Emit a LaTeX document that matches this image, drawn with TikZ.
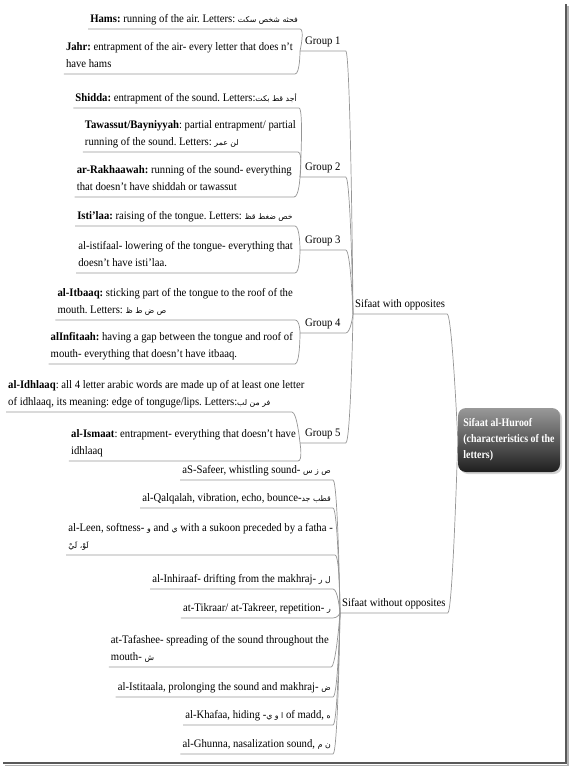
\documentclass[tikz,border=0pt]{standalone}
\usepackage{fontspec}
\setmainfont[FakeStretch=0.93]{Liberation Serif}
\newfontfamily\arabicfont[Script=Arabic]{DejaVu Sans}
\newfontfamily\centralfont[FakeStretch=0.86]{Liberation Serif}
\TeXXeTstate=1
\frenchspacing
\usetikzlibrary{shadows}
\definecolor{linkgray}{HTML}{959595}
\newcommand{\artxt}[1]{{\arabicfont\fontsize{7.8}{16.8}\selectfont\beginR #1\endR}}

\begin{document}
\begin{tikzpicture}[x=1pt,y=-1pt]
% Define styles
\tikzstyle{topic} = [inner xsep=2pt, inner ysep=1pt, align=left, font=\fontsize{11.5}{16.8}\selectfont, execute at end node=\strut]
\tikzstyle{grouptopic} = [topic, inner xsep=5pt, anchor=south west]
\tikzstyle{maintopic} = [topic, anchor=south west]
\tikzstyle{central} = [rounded corners=8pt, top color=black!40, bottom color=black!88, text=white, align=left, font=\centralfont\bfseries\fontsize{11.5}{16}\selectfont, inner xsep=4pt, inner ysep=7pt, minimum width=102pt, minimum height=64pt, drop shadow={opacity=0.35, shadow xshift=2pt, shadow yshift=-2pt}]
\tikzstyle{link} = [draw=linkgray, line width=0.7pt]
\useasboundingbox (0,0) rectangle (569,768);
% Page frame
\draw[black!30, line width=1.5pt] (5,765.5) -- (568,765.5) -- (568,6);
\draw[black!65, line width=2.2pt] (3,763) -- (566,763) -- (566,4);
% Define nodes
\node[central] (root) at (509,440) {Sifaat al-Huroof\\(characteristics of the\\letters)};
\node[maintopic] (withopp) at (353,314) {Sifaat with opposites};
\node[maintopic] (without) at (340,613) {Sifaat without opposites};
\node[grouptopic] (group1) at (300,51) {Group 1};
\node[grouptopic] (group2) at (300,177) {Group 2};
\node[grouptopic] (group3) at (300,250) {Group 3};
\node[grouptopic] (group4) at (300,333) {Group 4};
\node[grouptopic] (group5) at (300,443) {Group 5};
% left side
\node[topic, anchor=south east] (hams) at (300,29) {\textbf{Hams:} running of the air. Letters: \artxt{فحثه شخص سكت}};
\node[topic, anchor=south east] (jahr) at (295,74) {\textbf{Jahr:} entrapment of the air- every letter that does n't\\have hams};
\node[topic, anchor=south east] (shidda) at (299,108) {\textbf{Shidda:} entrapment of the sound. Letters:\artxt{أجد قط بكت}};
\node[topic, anchor=south east] (tawassut) at (298,152) {\textbf{Tawassut/Bayniyyah}: partial entrapment/ partial\\running of the sound. Letters: \artxt{لن عمر}};
\node[topic, anchor=south east] (rakhaawah) at (294,197) {\textbf{ar-Rakhaawah:} running of the sound- everything\\that doesn't have shiddah or tawassut};
\node[topic, anchor=south east] (istilaa) at (295,226) {\textbf{Isti'laa:} raising of the tongue. Letters: \artxt{خص ضغط قظ}};
\node[topic, anchor=south east] (istifaal) at (295,273) {al-istifaal- lowering of the tongue- everything that\\doesn't have isti'laa.};
\node[topic, anchor=south east] (itbaaq) at (295,320) {\textbf{al-Itbaaq:} sticking part of the tongue to the roof of the\\mouth. Letters: \artxt{ص ض ط ظ}};
\node[topic, anchor=south east] (infitaah) at (295,364) {\textbf{alInfitaah:} having a gap between the tongue and roof of\\mouth- everything that doesn't have itbaaq.};
\node[topic, anchor=south west] (idhlaaq) at (6,412) {\textbf{al-Idhlaaq}: all 4 letter arabic words are made up of at least one letter\\of idhlaaq, its meaning: edge of tonguge/lips. Letters:\artxt{فر من لب}};
\coordinate (idhlaaq-end) at (292,412);
\node[topic, anchor=south east] (ismaat) at (298,461) {\textbf{al-Ismaat}: entrapment- everything that doesn't have\\idhlaaq};
% right side
\node[topic, anchor=south east] (safeer) at (333,480) {aS-Safeer, whistling sound- \artxt{ص ز س}};
\node[topic, anchor=south east] (qalqalah) at (333,508) {al-Qalqalah, vibration, echo, bounce-\artxt{قطب جد}};
\node[topic, anchor=south east] (leen) at (335,555) {al-Leen, softness- \artxt{و} and \artxt{ي} with a sukoon preceded by a fatha -\\\artxt{لَوْ، لَيْ}};
\node[topic, anchor=south east] (inhiraaf) at (333,589) {al-Inhiraaf- drifting from the makhraj- \artxt{ل ر}};
\node[topic, anchor=south east] (tikraar) at (333,618) {at-Tikraar/ at-Takreer, repetition- \artxt{ر}};
\node[topic, anchor=south east] (tafashee) at (331,667) {at-Tafashee- spreading of the sound throughout the\\mouth- \artxt{ش}};
\node[topic, anchor=south east] (istitaala) at (333,697) {al-Istitaala, prolonging the sound and makhraj- \artxt{ض}};
\node[topic, anchor=south east] (khafaa) at (333,725) {al-Khafaa, hiding -\artxt{ا و ي} of madd, \artxt{ه}};
\node[topic, anchor=south east] (ghunna) at (333,754) {al-Ghunna, nasalization sound, \artxt{ن م}};
% Connect the nodes
\draw[link] (withopp.south west) -- (withopp.south east) .. controls +(5,0) and +(0,0) .. (root.west);
\draw[link] (without.south west) -- (without.south east) .. controls +(5,0) and +(0,0) .. (root.west);
\foreach \g in {group1,group2,group3,group4,group5}
  \draw[link] (\g.south west) -- (\g.south east) .. controls +(5,0) and +(0,0) .. (withopp.south west);
\foreach \t/\g in {hams/group1, jahr/group1, shidda/group2, tawassut/group2, rakhaawah/group2, istilaa/group3, istifaal/group3, itbaaq/group4, infitaah/group4, ismaat/group5}
  \draw[link] (\t.south west) -- (\t.south east) .. controls +(5,0) and +(0,0) .. (\g.south west);
\draw[link] (idhlaaq.south west) -- (idhlaaq-end) .. controls +(5,0) and +(0,0) .. (group5.south west);
\foreach \t in {safeer,qalqalah,leen,inhiraaf,tikraar,tafashee,istitaala,khafaa,ghunna}
  \draw[link] (\t.south west) -- (\t.south east) .. controls +(5,0) and +(0,0) .. (without.south west);
\end{tikzpicture}
\end{document}
